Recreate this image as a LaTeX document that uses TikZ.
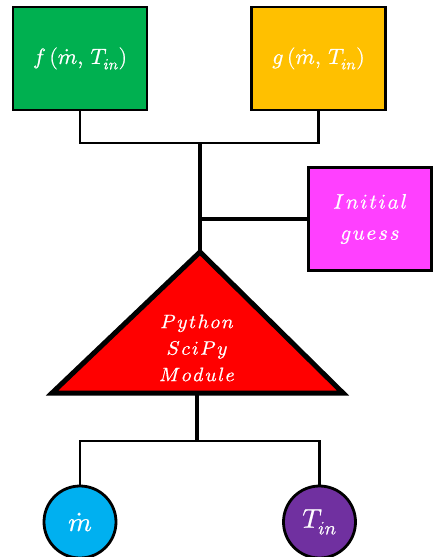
\documentclass[tikz,border=0pt]{standalone}
\usepackage{fontspec}
\usepackage{unicode-math}
\setmathfont{Latin Modern Math}[FakeBold=0.8]
\usetikzlibrary{calc}
\definecolor{fgreen}{HTML}{00B050}
\definecolor{gyellow}{HTML}{FFC000}
\definecolor{guessmag}{HTML}{FF40FF}
\definecolor{mdotcyan}{HTML}{00B0F0}
\definecolor{tinpurple}{HTML}{7030A0}
\newcommand{\lsp}{\mkern1.5mu}
\tikzset{
  funcbox/.style={draw=black, line width=2.6pt, rectangle, minimum width=134pt, minimum height=103pt, inner sep=0pt, text=white, font=\fontsize{22}{26}\selectfont},
  varcirc/.style={draw=black, line width=2.8pt, circle, minimum size=72pt, inner sep=0pt, text=white, font=\fontsize{27}{30}\selectfont},
  thinlink/.style={line width=2.2pt, line join=miter},
  thicklink/.style={line width=4.8pt},
  lbl/.style={text=white, align=center, inner sep=0pt}
}
\begin{document}
\begin{tikzpicture}[x=1pt, y=-1pt]
\useasboundingbox (0,0) rectangle (433,557);
\fill[white] (0,0) rectangle (433,557);

% objective functions
\node[funcbox, fill=fgreen] (f) at (80,58.5) {$f\,(\dot m,\,T_{in})$};
\node[funcbox, fill=gyellow] (g) at (318.5,58.5) {$g\,(\dot m,\,T_{in})$};

% starting point
\node[funcbox, fill=guessmag, minimum width=123pt, minimum height=103pt, align=center, font=\fontsize{21}{32}\selectfont] (guess) at (370,219) {$I\lsp n\lsp i\lsp t\lsp i\lsp a\lsp l$\\[-1pt]$g\lsp u\lsp e\lsp s\lsp s$};

% solver
\coordinate (apex) at (200,252);
\coordinate (bl) at (52,393);
\coordinate (br) at (343,393);
\coordinate (base) at (197,393);
\filldraw[fill=red, draw=black, line width=5pt, line join=miter] (apex) -- (br) -- (bl) -- cycle;
\node[lbl, font=\fontsize{19.5}{26.5}\selectfont] (solver) at (197,348) {$P\lsp y\lsp t\lsp h\lsp o\lsp n$\\$S\lsp c\lsp i\lsp P\lsp y$\\$M\lsp o\lsp d\lsp u\lsp l\lsp e$};

% inputs
\node[varcirc, fill=mdotcyan] (mdot) at (80,522) {$\dot m$};
\node[varcirc, fill=tinpurple] (tin) at (319.5,522) {$T_{in}$};

% connectors
\coordinate (top) at (200,143);
\coordinate (side) at (200,219);
\coordinate (bot) at (197,441);
\draw[thinlink] (f.south) |- (top) -| (g.south);
\draw[thicklink] (top) -- (apex);
\draw[thicklink] (side) -- (guess.west);
\draw[thicklink] (base) -- (bot);
\draw[thinlink] (mdot.north) |- (bot) -| (tin.north);
\end{tikzpicture}
\end{document}
